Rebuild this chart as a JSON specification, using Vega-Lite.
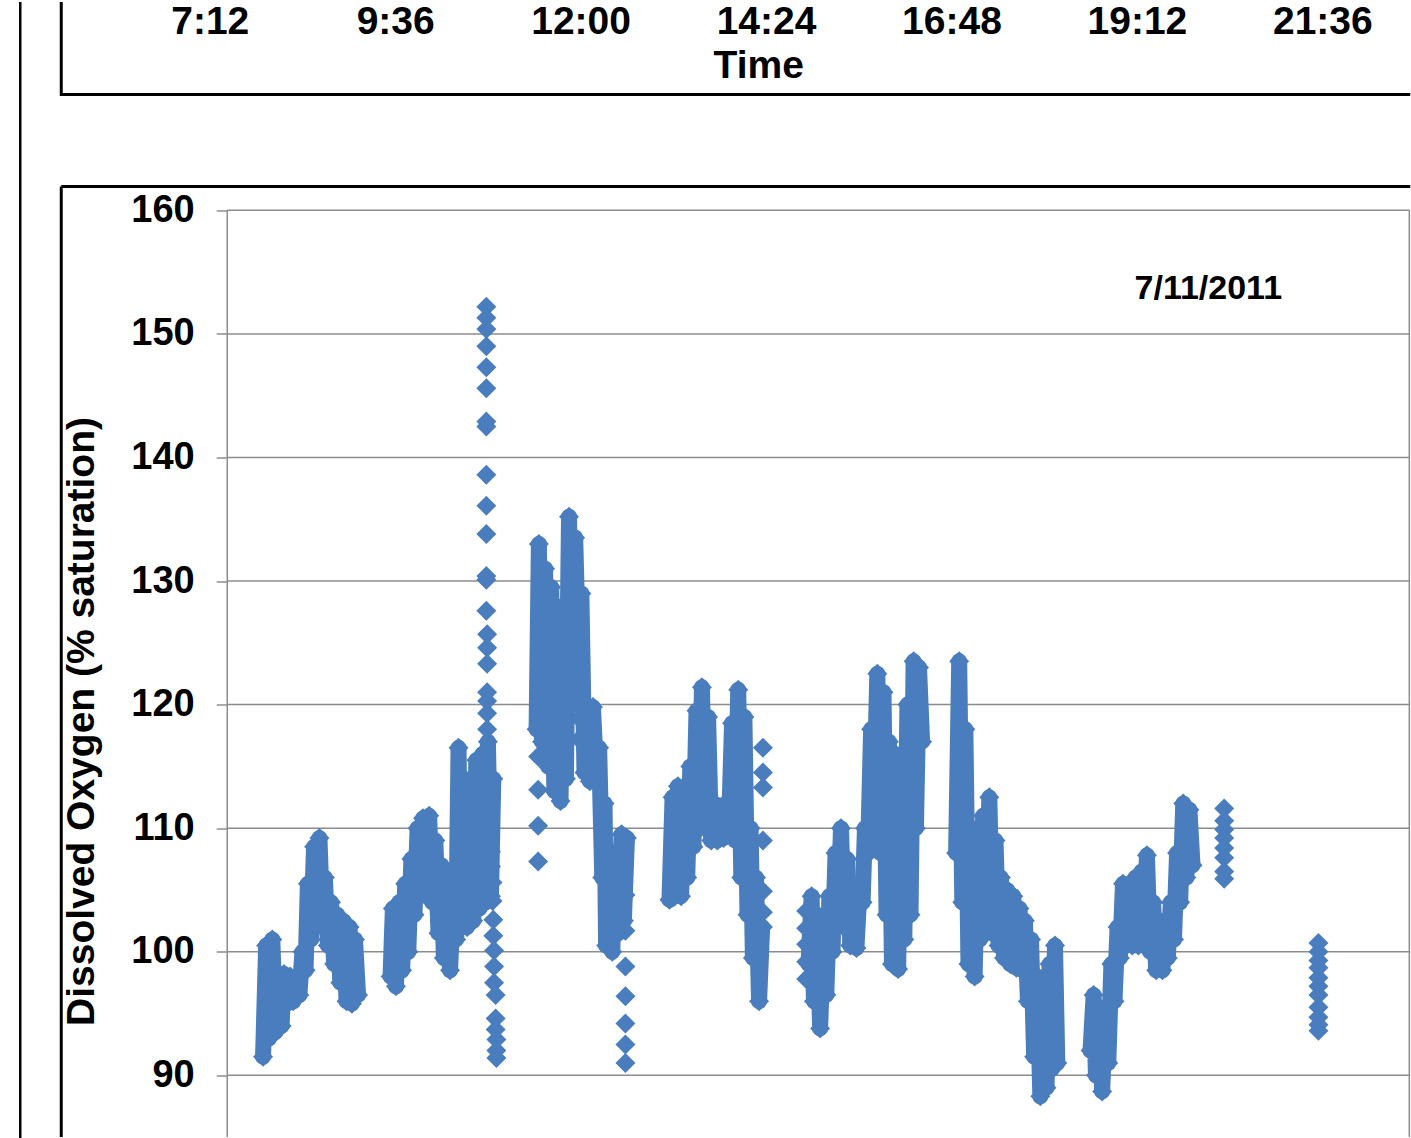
{
  "$schema": "https://vega.github.io/schema/vega-lite/v6.json",
  "background": "white",
  "padding": {"left": 18.25, "top": 0, "right": 0, "bottom": 0},
  "bounds": "flush",
  "spacing": 0,
  "datasets": {
    "oxygen": [
      {"t":7.89,"v":91.5,"g":"A"},{"t":7.93,"v":100.5,"g":"A"},{"t":7.97,"v":93,"g":"A"},{"t":8.01,"v":101,"g":"A"},{"t":8.05,"v":93.5,"g":"A"},{"t":8.09,"v":98,"g":"A"},{"t":8.13,"v":94,"g":"A"},{"t":8.16,"v":98.2,"g":"A"},{"t":8.20,"v":95.8,"g":"A"},{"t":8.24,"v":98,"g":"A"},{"t":8.28,"v":96,"g":"A"},{"t":8.32,"v":98,"g":"A"},{"t":8.36,"v":96.5,"g":"A"},{"t":8.40,"v":100,"g":"A"},{"t":8.44,"v":98.5,"g":"A"},{"t":8.47,"v":105.5,"g":"A"},{"t":8.51,"v":101,"g":"A"},{"t":8.55,"v":108.5,"g":"A"},{"t":8.59,"v":102.5,"g":"A"},{"t":8.62,"v":109.2,"g":"A"},{"t":8.66,"v":102,"g":"A"},{"t":8.69,"v":106,"g":"A"},{"t":8.73,"v":100.5,"g":"A"},{"t":8.77,"v":104,"g":"A"},{"t":8.81,"v":99,"g":"A"},{"t":8.85,"v":103,"g":"A"},{"t":8.89,"v":97.5,"g":"A"},{"t":8.93,"v":102.5,"g":"A"},{"t":8.97,"v":96,"g":"A"},{"t":9.01,"v":102,"g":"A"},{"t":9.04,"v":95.8,"g":"A"},{"t":9.08,"v":101,"g":"A"},{"t":9.12,"v":96.5,"g":"A"},
      {"t":9.54,"v":98,"g":"B"},{"t":9.57,"v":103.5,"g":"B"},{"t":9.61,"v":97.2,"g":"B"},{"t":9.65,"v":104,"g":"B"},{"t":9.69,"v":98.5,"g":"B"},{"t":9.73,"v":105.5,"g":"B"},{"t":9.77,"v":100,"g":"B"},{"t":9.81,"v":107.5,"g":"B"},{"t":9.85,"v":103,"g":"B"},{"t":9.89,"v":110,"g":"B"},{"t":9.92,"v":104.5,"g":"B"},{"t":9.96,"v":110.8,"g":"B"},{"t":10.00,"v":105,"g":"B"},{"t":10.04,"v":111,"g":"B"},{"t":10.08,"v":104,"g":"B"},{"t":10.12,"v":109,"g":"B"},{"t":10.16,"v":101.5,"g":"B"},{"t":10.20,"v":107,"g":"B"},{"t":10.23,"v":99.5,"g":"B"},{"t":10.27,"v":105.5,"g":"B"},{"t":10.31,"v":98.5,"g":"B"},{"t":10.35,"v":104,"g":"B"},{"t":10.39,"v":101,"g":"B"},{"t":10.42,"v":116.5,"g":"B"},{"t":10.45,"v":103,"g":"B"},{"t":10.49,"v":114,"g":"B"},{"t":10.53,"v":102,"g":"B"},{"t":10.57,"v":113,"g":"B"},{"t":10.61,"v":102.5,"g":"B"},{"t":10.65,"v":115.5,"g":"B"},{"t":10.69,"v":103.5,"g":"B"},{"t":10.73,"v":116,"g":"B"},{"t":10.77,"v":104,"g":"B"},{"t":10.80,"v":117,"g":"B"},{"t":10.84,"v":104.5,"g":"B"},{"t":10.87,"v":114,"g":"B"},
      {"t":11.43,"v":118,"g":"C"},{"t":11.46,"v":133,"g":"C"},{"t":11.50,"v":117,"g":"C"},{"t":11.54,"v":131,"g":"C"},{"t":11.58,"v":115,"g":"C"},{"t":11.62,"v":129.5,"g":"C"},{"t":11.66,"v":113,"g":"C"},{"t":11.70,"v":127,"g":"C"},{"t":11.74,"v":112.2,"g":"C"},{"t":11.78,"v":128,"g":"C"},{"t":11.81,"v":114,"g":"C"},{"t":11.85,"v":135.2,"g":"C"},{"t":11.89,"v":120,"g":"C"},{"t":11.93,"v":133.5,"g":"C"},{"t":11.97,"v":124,"g":"C"},{"t":12.01,"v":129,"g":"C"},{"t":12.05,"v":114.5,"g":"C"},{"t":12.09,"v":119.5,"g":"C"},{"t":12.12,"v":113.8,"g":"C"},{"t":12.16,"v":119.8,"g":"C"},{"t":12.20,"v":114.5,"g":"C"},{"t":12.24,"v":116.5,"g":"C"},{"t":12.28,"v":106,"g":"C"},{"t":12.31,"v":112,"g":"C"},{"t":12.33,"v":100.5,"g":"C"},{"t":12.37,"v":106,"g":"C"},{"t":12.41,"v":100,"g":"C"},{"t":12.45,"v":108,"g":"C"},{"t":12.49,"v":101.5,"g":"C"},{"t":12.53,"v":109.5,"g":"C"},{"t":12.56,"v":102.5,"g":"C"},{"t":12.60,"v":109.2,"g":"C"},
      {"t":13.15,"v":104.2,"g":"D"},{"t":13.19,"v":112.5,"g":"D"},{"t":13.22,"v":104.5,"g":"D"},{"t":13.26,"v":113.4,"g":"D"},{"t":13.30,"v":104.5,"g":"D"},{"t":13.34,"v":112,"g":"D"},{"t":13.38,"v":106,"g":"D"},{"t":13.42,"v":115,"g":"D"},{"t":13.46,"v":108.5,"g":"D"},{"t":13.50,"v":119.5,"g":"D"},{"t":13.54,"v":110,"g":"D"},{"t":13.57,"v":121.4,"g":"D"},{"t":13.61,"v":110,"g":"D"},{"t":13.65,"v":119,"g":"D"},{"t":13.69,"v":109,"g":"D"},{"t":13.73,"v":112,"g":"D"},{"t":13.77,"v":109,"g":"D"},{"t":13.81,"v":111.5,"g":"D"},{"t":13.85,"v":109.2,"g":"D"},{"t":13.88,"v":112,"g":"D"},{"t":13.92,"v":110,"g":"D"},{"t":13.96,"v":118.5,"g":"D"},{"t":14.00,"v":109,"g":"D"},{"t":14.04,"v":121.2,"g":"D"},{"t":14.08,"v":106,"g":"D"},{"t":14.12,"v":119,"g":"D"},{"t":14.16,"v":103,"g":"D"},{"t":14.20,"v":110,"g":"D"},{"t":14.23,"v":99.5,"g":"D"},{"t":14.27,"v":106,"g":"D"},{"t":14.31,"v":96,"g":"D"},{"t":14.35,"v":102,"g":"D"},
      {"t":14.95,"v":99,"g":"E"},{"t":14.99,"v":104.5,"g":"E"},{"t":15.02,"v":96,"g":"E"},{"t":15.06,"v":103,"g":"E"},{"t":15.10,"v":93.8,"g":"E"},{"t":15.14,"v":101,"g":"E"},{"t":15.18,"v":96.5,"g":"E"},{"t":15.22,"v":104.5,"g":"E"},{"t":15.26,"v":100,"g":"E"},{"t":15.30,"v":108,"g":"E"},{"t":15.33,"v":102,"g":"E"},{"t":15.37,"v":110,"g":"E"},{"t":15.41,"v":102,"g":"E"},{"t":15.45,"v":107.5,"g":"E"},{"t":15.49,"v":100.5,"g":"E"},{"t":15.53,"v":105.5,"g":"E"},{"t":15.57,"v":100.3,"g":"E"},{"t":15.61,"v":105,"g":"E"},
      {"t":15.65,"v":104,"g":"F"},{"t":15.68,"v":110,"g":"F"},{"t":15.72,"v":108,"g":"F"},{"t":15.76,"v":118,"g":"F"},{"t":15.80,"v":112,"g":"F"},{"t":15.84,"v":122.5,"g":"F"},{"t":15.88,"v":108,"g":"F"},{"t":15.92,"v":121,"g":"F"},{"t":15.96,"v":103,"g":"F"},{"t":15.99,"v":117,"g":"F"},{"t":16.03,"v":99,"g":"F"},{"t":16.07,"v":116,"g":"F"},{"t":16.11,"v":98.6,"g":"F"},{"t":16.15,"v":115,"g":"F"},{"t":16.19,"v":101,"g":"F"},{"t":16.23,"v":120,"g":"F"},{"t":16.27,"v":103,"g":"F"},{"t":16.31,"v":123.5,"g":"F"},{"t":16.34,"v":110,"g":"F"},{"t":16.38,"v":123,"g":"F"},{"t":16.42,"v":117,"g":"F"},
      {"t":16.86,"v":108,"g":"G"},{"t":16.90,"v":123.5,"g":"G"},{"t":16.94,"v":104,"g":"G"},{"t":16.98,"v":118,"g":"G"},{"t":17.02,"v":99,"g":"G"},{"t":17.06,"v":110,"g":"G"},{"t":17.10,"v":98,"g":"G"},{"t":17.13,"v":107,"g":"G"},{"t":17.17,"v":101,"g":"G"},{"t":17.21,"v":111,"g":"G"},{"t":17.25,"v":102,"g":"G"},{"t":17.29,"v":112.5,"g":"G"},{"t":17.33,"v":101.5,"g":"G"},{"t":17.37,"v":109,"g":"G"},{"t":17.41,"v":100.5,"g":"G"},{"t":17.44,"v":106,"g":"G"},{"t":17.48,"v":99.5,"g":"G"},{"t":17.52,"v":105,"g":"G"},{"t":17.56,"v":99,"g":"G"},{"t":17.60,"v":104.5,"g":"G"},{"t":17.64,"v":98.7,"g":"G"},{"t":17.68,"v":103.5,"g":"G"},{"t":17.72,"v":98.5,"g":"G"},{"t":17.75,"v":102.5,"g":"G"},{"t":17.79,"v":96,"g":"G"},{"t":17.83,"v":101,"g":"G"},{"t":17.87,"v":91.5,"g":"G"},{"t":17.91,"v":98,"g":"G"},{"t":17.95,"v":88.3,"g":"G"},{"t":17.99,"v":95,"g":"G"},{"t":18.03,"v":89,"g":"G"},{"t":18.07,"v":99,"g":"G"},{"t":18.10,"v":90.5,"g":"G"},{"t":18.14,"v":100.5,"g":"G"},{"t":18.17,"v":91,"g":"G"},
      {"t":18.60,"v":92,"g":"H"},{"t":18.64,"v":96.5,"g":"H"},{"t":18.67,"v":90,"g":"H"},{"t":18.71,"v":95.5,"g":"H"},{"t":18.75,"v":88.7,"g":"H"},{"t":18.79,"v":94.5,"g":"H"},{"t":18.83,"v":91,"g":"H"},{"t":18.87,"v":99,"g":"H"},{"t":18.91,"v":96,"g":"H"},{"t":18.95,"v":102,"g":"H"},{"t":18.98,"v":99.5,"g":"H"},{"t":19.02,"v":105.5,"g":"H"},{"t":19.06,"v":100.5,"g":"H"},{"t":19.10,"v":104.5,"g":"H"},{"t":19.14,"v":100.5,"g":"H"},{"t":19.18,"v":106,"g":"H"},{"t":19.22,"v":100.5,"g":"H"},{"t":19.26,"v":106.5,"g":"H"},{"t":19.29,"v":101,"g":"H"},{"t":19.33,"v":107.8,"g":"H"},{"t":19.37,"v":100,"g":"H"},{"t":19.41,"v":104,"g":"H"},{"t":19.45,"v":98.5,"g":"H"},{"t":19.49,"v":102.5,"g":"H"},{"t":19.53,"v":98.5,"g":"H"},{"t":19.57,"v":102.5,"g":"H"},{"t":19.60,"v":99.5,"g":"H"},{"t":19.64,"v":104,"g":"H"},{"t":19.68,"v":101,"g":"H"},{"t":19.72,"v":108,"g":"H"},{"t":19.76,"v":104,"g":"H"},{"t":19.80,"v":112,"g":"H"},{"t":19.84,"v":106,"g":"H"},{"t":19.88,"v":111.5,"g":"H"},{"t":19.92,"v":107,"g":"H"},
      {"t":10.78,"v":152.2,"g":"x"},{"t":10.78,"v":151.3,"g":"x"},{"t":10.78,"v":150.4,"g":"x"},{"t":10.78,"v":149.0,"g":"x"},{"t":10.78,"v":147.3,"g":"x"},{"t":10.78,"v":145.6,"g":"x"},{"t":10.78,"v":142.9,"g":"x"},{"t":10.78,"v":142.5,"g":"x"},{"t":10.78,"v":138.6,"g":"x"},{"t":10.78,"v":136.1,"g":"x"},{"t":10.78,"v":133.8,"g":"x"},{"t":10.78,"v":130.4,"g":"x"},{"t":10.78,"v":130.1,"g":"x"},{"t":10.78,"v":127.6,"g":"x"},{"t":10.79,"v":125.7,"g":"x"},{"t":10.79,"v":124.6,"g":"x"},{"t":10.79,"v":123.3,"g":"x"},{"t":10.79,"v":121.0,"g":"x"},{"t":10.79,"v":120.3,"g":"x"},{"t":10.79,"v":119.3,"g":"x"},{"t":10.79,"v":118.0,"g":"x"},
      {"t":10.83,"v":109.8,"g":"x"},{"t":10.84,"v":108.1,"g":"x"},{"t":10.84,"v":106.9,"g":"x"},{"t":10.86,"v":105.6,"g":"x"},{"t":10.86,"v":104.1,"g":"x"},{"t":10.87,"v":102.6,"g":"x"},{"t":10.87,"v":101.3,"g":"x"},{"t":10.88,"v":100.1,"g":"x"},{"t":10.88,"v":98.8,"g":"x"},{"t":10.88,"v":97.5,"g":"x"},{"t":10.90,"v":96.5,"g":"x"},{"t":10.90,"v":94.6,"g":"x"},{"t":10.90,"v":93.7,"g":"x"},{"t":10.91,"v":92.9,"g":"x"},{"t":10.91,"v":92.0,"g":"x"},{"t":10.91,"v":91.4,"g":"x"},
      {"t":11.45,"v":115.8,"g":"x"},{"t":11.45,"v":113.1,"g":"x"},{"t":11.45,"v":110.2,"g":"x"},{"t":11.45,"v":107.3,"g":"x"},
      {"t":11.98,"v":124.7,"g":"x"},{"t":11.98,"v":122.8,"g":"x"},{"t":11.98,"v":121.0,"g":"x"},{"t":11.98,"v":118.9,"g":"x"},{"t":11.98,"v":117.2,"g":"x"},
      {"t":12.58,"v":104.6,"g":"x"},{"t":12.58,"v":101.7,"g":"x"},{"t":12.58,"v":98.8,"g":"x"},{"t":12.58,"v":96.4,"g":"x"},{"t":12.58,"v":94.2,"g":"x"},{"t":12.58,"v":92.5,"g":"x"},{"t":12.58,"v":91.0,"g":"x"},
      {"t":14.36,"v":116.5,"g":"x"},{"t":14.36,"v":114.5,"g":"x"},{"t":14.36,"v":113.3,"g":"x"},{"t":14.36,"v":109.0,"g":"x"},{"t":14.36,"v":104.9,"g":"x"},{"t":14.36,"v":103.2,"g":"x"},{"t":14.36,"v":102.0,"g":"x"},
      {"t":14.92,"v":103.3,"g":"x"},{"t":14.92,"v":101.9,"g":"x"},{"t":14.92,"v":100.6,"g":"x"},{"t":14.92,"v":99.2,"g":"x"},{"t":14.92,"v":97.8,"g":"x"},
      {"t":20.33,"v":111.6,"g":"x"},{"t":20.33,"v":110.6,"g":"x"},{"t":20.33,"v":109.9,"g":"x"},{"t":20.33,"v":109.2,"g":"x"},{"t":20.33,"v":108.4,"g":"x"},{"t":20.33,"v":107.6,"g":"x"},{"t":20.33,"v":106.5,"g":"x"},{"t":20.33,"v":105.9,"g":"x"},
      {"t":21.55,"v":100.7,"g":"x"},{"t":21.55,"v":100.0,"g":"x"},{"t":21.55,"v":99.3,"g":"x"},{"t":21.55,"v":98.7,"g":"x"},{"t":21.55,"v":97.9,"g":"x"},{"t":21.55,"v":97.2,"g":"x"},{"t":21.55,"v":96.5,"g":"x"},{"t":21.55,"v":95.5,"g":"x"},{"t":21.55,"v":94.7,"g":"x"},{"t":21.55,"v":94.1,"g":"x"},{"t":21.55,"v":93.6,"g":"x"}
    ]
  },
  "hconcat": [
    {
      "width": 40.5,
      "height": 1137,
      "data": {"values": []},
      "mark": {"type": "point", "opacity": 0},
      "encoding": {},
      "view": {"stroke": "#000000", "strokeWidth": 2.5, "strokeDash": [0, 1218, 1137, 0]}
    },
    {
      "spacing": 91.5,
      "bounds": "flush",
      "vconcat": [
        {
          "width": 1349,
          "height": 92.5,
          "data": {"values": []},
          "mark": {"type": "point", "opacity": 0},
          "encoding": {
            "x": {
              "field": "t",
              "type": "quantitative",
              "scale": {"domain": [5.278, 22.738], "nice": false, "zero": false},
              "axis": {
                "orient": "bottom",
                "offset": -92.5,
                "domain": false,
                "ticks": false,
                "tickSize": 0,
                "grid": false,
                "values": [7.2, 9.6, 12, 14.4, 16.8, 19.2, 21.6],
                "labelExpr": "floor(datum.value) + ':' + (round((datum.value - floor(datum.value)) * 60) < 10 ? '0' : '') + round((datum.value - floor(datum.value)) * 60)",
                "labelFont": "Liberation Sans, Arial, sans-serif",
                "labelFontSize": 39,
                "labelFontWeight": "bold",
                "labelColor": "#000000",
                "labelBaseline": "alphabetic",
                "labelPadding": 31,
                "labelFlush": false,
                "labelOverlap": false,
                "title": "Time",
                "titleFont": "Liberation Sans, Arial, sans-serif",
                "titleFontSize": 39,
                "titleFontWeight": "bold",
                "titleColor": "#000000",
                "titleBaseline": "alphabetic",
                "titleAlign": "center",
                "titleX": 697,
                "titleY": 75
              }
            }
          },
          "view": {"stroke": "#000000", "strokeWidth": 3, "strokeDash": [0, 1441.5, 1441.5, 0]}
        },
        {
          "width": 1349,
          "height": 950.5,
          "view": {"stroke": "#000000", "strokeWidth": 3, "strokeDash": [1349, 2299.5, 950.5, 0]},
          "layer": [
            {
              "data": {"values": [{"v": 90}, {"v": 100}, {"v": 110}, {"v": 120}, {"v": 130}, {"v": 140}, {"v": 150}, {"v": 160}]},
              "mark": {"type": "rule", "color": "#8c8c8c", "strokeWidth": 1.5},
              "encoding": {
                "y": {
                  "field": "v",
                  "type": "quantitative",
                  "scale": {"domain": [85.01, 161.926], "nice": false, "zero": false},
                  "axis": {
                    "orient": "left",
                    "offset": -166,
                    "domain": false,
                    "grid": false,
                    "ticks": true,
                    "tickSize": 11,
                    "tickColor": "#8c8c8c",
                    "tickWidth": 1.5,
                    "values": [90, 100, 110, 120, 130, 140, 150, 160],
                    "labelFont": "Liberation Sans, Arial, sans-serif",
                    "labelFontSize": 38,
                    "labelFontWeight": "bold",
                    "labelColor": "#000000",
                    "labelPadding": 22,
                    "labelBaseline": "middle",
                    "labelFlush": false,
                    "labelOverlap": false,
                    "title": "Dissolved Oxygen (% saturation)",
                    "titleFont": "Liberation Sans, Arial, sans-serif",
                    "titleFontSize": 39,
                    "titleFontWeight": "bold",
                    "titleColor": "#000000",
                    "titleAngle": -90,
                    "titleAlign": "center",
                    "titleBaseline": "alphabetic",
                    "titleX": -134,
                    "titleY": 534.5
                  }
                },
                "x": {"datum": 7.4265, "type": "quantitative", "scale": {"domain": [5.278, 22.738], "nice": false, "zero": false}, "axis": null},
                "x2": {"datum": 22.726}
              }
            },
            {
              "data": {"values": [{}]},
              "mark": {"type": "rule", "color": "#8c8c8c", "strokeWidth": 1.5},
              "encoding": {
                "x": {"datum": 7.4265, "type": "quantitative", "axis": null},
                "y": {"datum": 160, "type": "quantitative"},
                "y2": {"datum": 85.01}
              }
            },
            {
              "data": {"values": [{}]},
              "mark": {"type": "rule", "color": "#8c8c8c", "strokeWidth": 1.5},
              "encoding": {
                "x": {"datum": 22.726, "type": "quantitative", "axis": null},
                "y": {"datum": 160, "type": "quantitative"},
                "y2": {"datum": 85.01}
              }
            },
            {
              "data": {"name": "oxygen"},
              "transform": [{"filter": "datum.g != 'x'"}],
              "mark": {"type": "line", "color": "#4a7dbd", "strokeWidth": 16, "strokeCap": "round", "strokeJoin": "round"},
              "encoding": {
                "x": {"field": "t", "type": "quantitative", "axis": null},
                "y": {"field": "v", "type": "quantitative"},
                "detail": {"field": "g"}
              }
            },
            {
              "data": {"name": "oxygen"},
              "mark": {"type": "point", "shape": "diamond", "filled": true, "size": 400, "color": "#4a7dbd", "opacity": 1, "strokeWidth": 0},
              "encoding": {
                "x": {"field": "t", "type": "quantitative", "axis": null},
                "y": {"field": "v", "type": "quantitative"}
              }
            },
            {
              "data": {"values": [{}]},
              "mark": {"type": "text", "text": "7/11/2011", "font": "Liberation Sans, Arial, sans-serif", "fontSize": 34, "fontWeight": "bold", "color": "#000000", "align": "center", "baseline": "alphabetic"},
              "encoding": {
                "x": {"datum": 20.124, "type": "quantitative", "axis": null},
                "y": {"datum": 152.8, "type": "quantitative"}
              }
            }
          ]
        }
      ]
    }
  ]
}
